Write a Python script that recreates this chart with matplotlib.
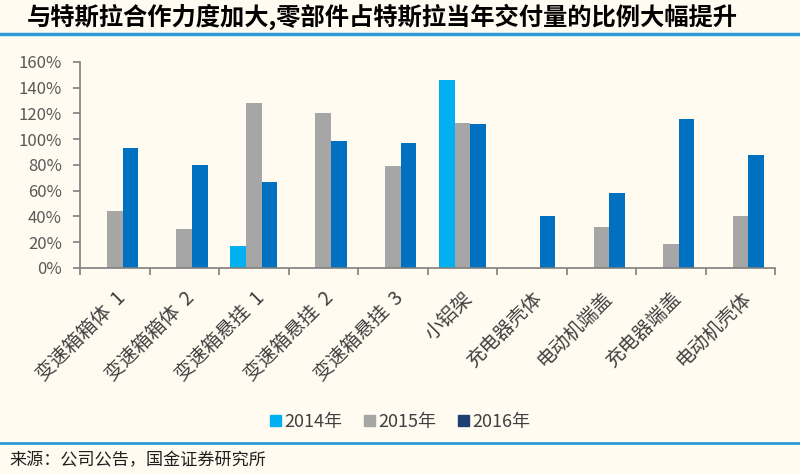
import numpy as np
import matplotlib
matplotlib.use("Agg")
import matplotlib.pyplot as plt
from matplotlib.patches import Patch
from matplotlib.lines import Line2D

plt.rcParams['font.family'] = ['Noto Sans CJK SC', 'DejaVu Sans']

# ---- data (in %) ----
categories = ["变速箱箱体  1", "变速箱箱体  2", "变速箱悬挂  1", "变速箱悬挂  2", "变速箱悬挂  3",
              "小铝架", "充电器壳体", "电动机端盖", "充电器端盖", "电动机壳体"]
y2014 = [0, 0, 17, 0, 0, 146, 0, 0, 0, 0]
y2015 = [44, 30, 128, 120, 79, 113, 0, 32, 19, 40]
y2016 = [93, 80, 67, 99, 97, 112, 40, 58, 116, 88]
series_names = ["2014年", "2015年", "2016年"]
yticks = [0, 20, 40, 60, 80, 100, 120, 140, 160]

bg = "#FFFBF0"
c14, c15, c16 = "#00B0F0", "#A6A6A6", "#0070C0"
axis_col = "#7F7F7F"
line_blue = "#2E9BD6"

fig = plt.figure(figsize=(8, 4.74), dpi=100, facecolor=bg)
ax = fig.add_axes([0.1, 0.4346, 0.869, 0.4346])
ax.set_facecolor(bg)

x = np.arange(len(categories))
w = 0.226
ax.bar(x - w, y2014, w, color=c14)
ax.bar(x, y2015, w, color=c15)
ax.bar(x + w, y2016, w, color=c16)

ax.set_xlim(-0.5, len(categories) - 0.5)
ax.set_ylim(0, 160)
ax.set_yticks(yticks)
ax.set_yticklabels([f"{v}%" for v in yticks], fontsize=12, color="#595959")

ax.set_xticks(np.arange(-0.5, len(categories), 1.0))
ax.set_xticklabels([])
ax.set_xticks(x, minor=True)
ax.set_xticklabels(categories, minor=True, rotation=45, ha='right', va='top',
                   rotation_mode='anchor', fontsize=14, color="#404040")
ax.tick_params(axis='x', which='major', length=5, width=1.2, color=axis_col, direction='out')
ax.tick_params(axis='x', which='minor', length=0, pad=14)
ax.tick_params(axis='y', length=5, width=1.2, color=axis_col, pad=8)

for s in ['top', 'right']:
    ax.spines[s].set_visible(False)
for s in ['left', 'bottom']:
    ax.spines[s].set_color(axis_col)
    ax.spines[s].set_linewidth(1.2)

handles = [Patch(color=c14), Patch(color=c15), Patch(color="#1F3F73")]
fig.legend(handles, series_names, loc='center', bbox_to_anchor=(0.5, 0.11), ncol=3,
           frameon=False, fontsize=13, handlelength=0.6, handleheight=0.6,
           handletextpad=0.2, columnspacing=1.2, labelcolor="#404040")

# title and rules
fig.text(0.034, 0.964, "与特斯拉合作力度加大,零部件占特斯拉当年交付量的比例大幅提升",
         fontsize=17.5, fontweight='bold', color="black", va='center', ha='left')
fig.add_artist(Line2D([0, 1], [0.928, 0.928], color=line_blue, lw=2.5, transform=fig.transFigure))
fig.add_artist(Line2D([0, 1], [0.065, 0.065], color=line_blue, lw=2, transform=fig.transFigure))
fig.text(0.012, 0.029, "来源：公司公告，国金证券研究所", fontsize=12.3, color="#202020",
         va='center', ha='left')

fig.savefig("out.png", dpi=100, facecolor=bg)
